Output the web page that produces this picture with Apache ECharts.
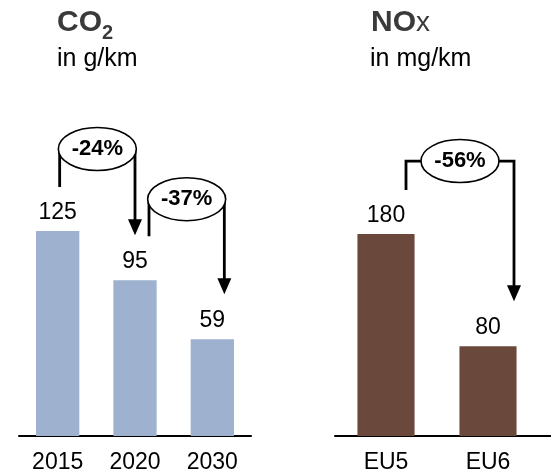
<!DOCTYPE html>
<html>
<head>
<meta charset="UTF-8">
<title>CO2 / NOx</title>
<script src="https://cdn.jsdelivr.net/npm/echarts@6/dist/echarts.min.js"></script>
<style>html,body{margin:0;padding:0;background:#fff}</style>
</head>
<body>
<div id="main" style="width:551px;height:475px;"></div>
<script>
// data
const co2Years = ['2015', '2020', '2030'];
const co2Values = [125, 95, 59];
const noxNorms = ['EU5', 'EU6'];
const noxValues = [180, 80];
// reductions: [from index, to index, label]
const co2Steps = [[0, 1, '-24%'], [1, 2, '-37%']];
const noxSteps = [[0, 1, '-56%']];

var FONT = 'Liberation Sans';
var chart = echarts.init(document.getElementById('main'));

function xAxisFor(grid, cats) {
  return {
    type: 'category', gridIndex: grid, data: cats,
    axisLine: {lineStyle: {color: '#000', width: 2}},
    axisTick: {show: false},
    axisLabel: {color: '#000', fontSize: 23, margin: 15, fontFamily: FONT}
  };
}
function barSeries(grid, values, color) {
  return {
    type: 'bar', xAxisIndex: grid, yAxisIndex: grid, data: values,
    barWidth: '56%',
    itemStyle: {color: color},
    label: {show: true, position: 'top', distance: 7, color: '#000', fontSize: 23, fontFamily: FONT}
  };
}

chart.setOption({
  animation: false,
  grid: [
    {left: 19, width: 232, top: 190, height: 246},
    {left: 335, width: 204, top: 211.6, height: 224.4}
  ],
  xAxis: [xAxisFor(0, co2Years), xAxisFor(1, noxNorms)],
  yAxis: [
    {gridIndex: 0, min: 0, max: 150, show: false},
    {gridIndex: 1, min: 0, max: 200, show: false}
  ],
  series: [
    barSeries(0, co2Values, '#9eb1cf'),
    barSeries(1, noxValues, '#6b483c')
  ]
});

// annotations (arrows with ellipse labels), placed from the bar values
var co2Layout = [{l: 2, r: 0, lift: 82}, {l: 14, r: 12, lift: 81}];
var noxLayout = [{l: 20, r: 26, lift: 73}];

var gfx = [];
function addSteps(grid, values, steps, layout) {
  steps.forEach(function (s, k) {
    var from = chart.convertToPixel({gridIndex: grid}, [s[0], values[s[0]]]);
    var to = chart.convertToPixel({gridIndex: grid}, [s[1], values[s[1]]]);
    var lay = layout[k];
    var xl = from[0] + lay.l, xr = to[0] + lay.r;
    var cy = from[1] - lay.lift, cx = (xl + xr) / 2;
    var tip = to[1] - 45;
    var line = {stroke: '#000', lineWidth: 2.8, fill: null};
    gfx.push({type: 'polyline', shape: {points: [[xl, from[1] - 44], [xl, cy], [cx, cy]]}, style: line});
    gfx.push({type: 'polyline', shape: {points: [[cx, cy], [xr, cy], [xr, tip - 14]]}, style: line});
    gfx.push({type: 'polygon', shape: {points: [[xr - 7, tip - 16], [xr + 7, tip - 16], [xr, tip]]}, style: {fill: '#000'}});
    gfx.push({type: 'ellipse', shape: {cx: cx, cy: cy, rx: 39, ry: 21.5}, style: {fill: '#fff', stroke: '#000', lineWidth: 1.6}});
    gfx.push({type: 'text', style: {text: s[2], x: cx, y: cy, textAlign: 'center', textVerticalAlign: 'middle',
      fill: '#000', font: 'bold 22px ' + FONT}});
  });
}
addSteps(0, co2Values, co2Steps, co2Layout);
addSteps(1, noxValues, noxSteps, noxLayout);

// panel titles
gfx.push({type: 'text', style: {text: 'CO', x: 57, y: 23, textVerticalAlign: 'middle', fill: '#3a3a3a', font: 'bold 30px ' + FONT}});
gfx.push({type: 'text', style: {text: '2', x: 102, y: 33, textVerticalAlign: 'middle', fill: '#3a3a3a', font: 'bold 20px ' + FONT}});
gfx.push({type: 'text', style: {text: 'in g/km', x: 57, y: 59.5, textVerticalAlign: 'middle', fill: '#000', font: '25px ' + FONT}});
gfx.push({type: 'text', style: {text: '{b|NO}{r|x}', x: 371, y: 23, textVerticalAlign: 'middle',
  rich: {b: {fill: '#3a3a3a', font: 'bold 30px ' + FONT}, r: {fill: '#3a3a3a', font: '28px ' + FONT}}}});
gfx.push({type: 'text', style: {text: 'in mg/km', x: 370, y: 59.5, textVerticalAlign: 'middle', fill: '#000', font: '25px ' + FONT}});
// axis line runs on past the last category
var ax = chart.convertToPixel({gridIndex: 1}, [1, 0]);
gfx.push({type: 'line', shape: {x1: 539, y1: ax[1], x2: 551, y2: ax[1]}, style: {stroke: '#000', lineWidth: 2}});

chart.setOption({graphic: gfx});
</script>
</body>
</html>
